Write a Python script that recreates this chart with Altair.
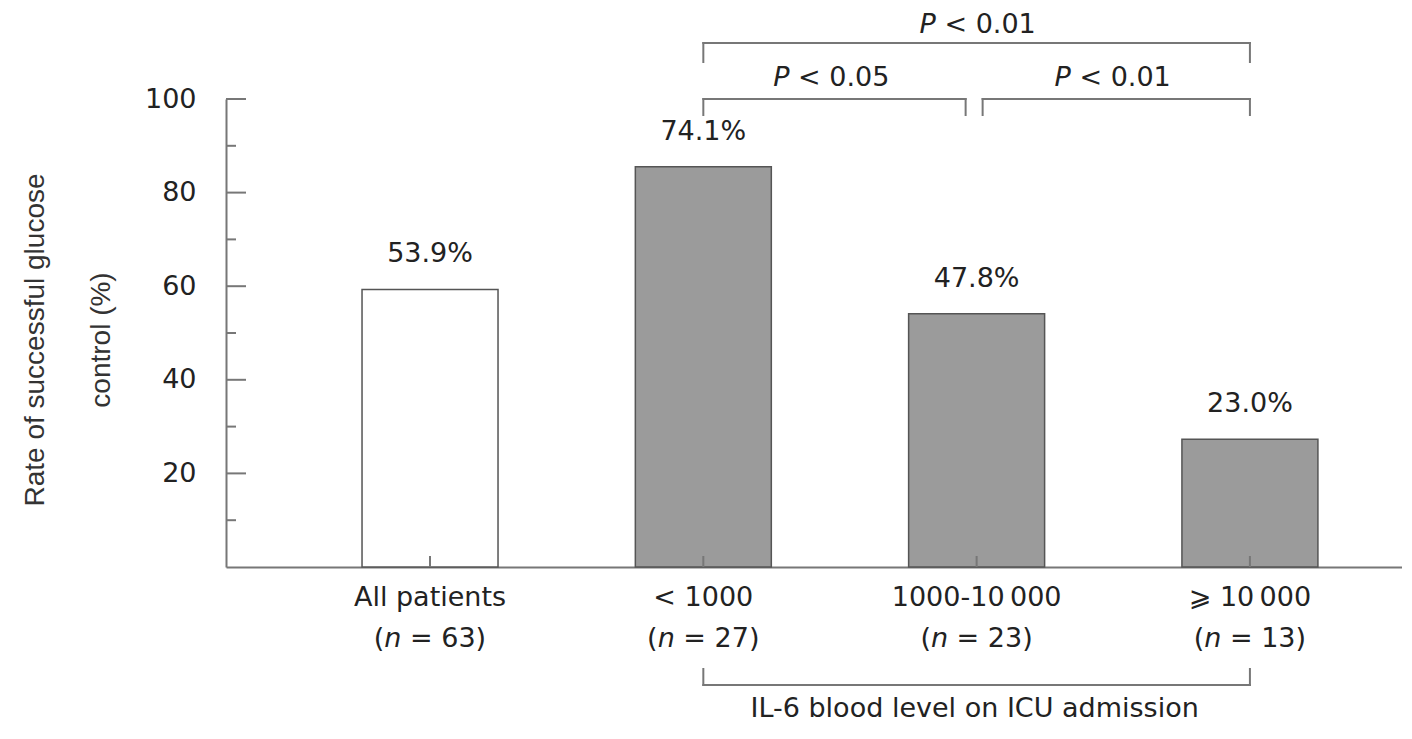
import altair as alt
import pandas as pd

# ---------------- data ----------------
categories = ["All patients", "< 1000", "1000-10\u2009000", "\u2a7e 10\u2009000"]
bar_heights = [59.3, 85.5, 54.1, 27.3]
pct_labels = ["53.9%", "74.1%", "47.8%", "23.0%"]
n_counts = ["63", "27", "23", "13"]
bar_fills = ["#ffffff", "#9b9b9b", "#9b9b9b", "#9b9b9b"]
major_ticks = [20, 40, 60, 80, 100]
minor_ticks = [10, 30, 50, 70, 90]
y_title_lines = ["Rate of successful glucose", "control (%)"]
group_title = "IL-6 blood level on ICU admission"
bracket_from = [categories[1], categories[1], categories[2]]
bracket_to = [categories[3], categories[2], categories[3]]
bracket_p = ["< 0.01", "< 0.05", "< 0.01"]
bracket_level = ["upper", "lower", "lower"]

# ---------------- style / layout ----------------
W, H = 1176, 468
FONT = "DejaVu Sans"
FS = 27
INK = "#222222"
LINE = "#777777"
# per bracket: (offset left end, offset right end, label anchor category, label dx)
bracket_style = [
    (0, 0, categories[2], 1),
    (0, -11, categories[1], 128),
    (6, 0, categories[2], 136),
]
level_style = {"upper": (-56, 19, -74), "lower": (0, 16, -21)}

xscale = alt.Scale(paddingInner=0.5024, paddingOuter=0.4027, align=0.618)
yscale = alt.Scale(domain=[0, 100])

XAXIS = alt.Axis(title=None, labelAngle=0, ticks=True, tickSize=0, labelPadding=30,
                 labelBaseline="middle", labelFont=FONT, labelFontSize=FS, labelColor=INK,
                 domainColor=LINE, domainWidth=2, grid=False)
YAXIS = alt.Axis(values=major_ticks, title=None, grid=False, ticks=True, tickSize=0,
                 labelPadding=30, labelFont=FONT, labelFontSize=FS, labelColor=INK,
                 domainColor=LINE, domainWidth=2)


def X():
    return alt.X("cat:N", sort=categories, scale=xscale, axis=XAXIS)


def Y():
    return alt.Y("v:Q", scale=yscale, axis=YAXIS)


bars_df = pd.DataFrame({
    "cat": categories,
    "v": bar_heights,
    "pct": pct_labels,
    "n": ["= " + c + ")" for c in n_counts],
    "fill": bar_fills,
})

layers = []

bars = alt.Chart(bars_df).mark_bar(stroke="#555555", strokeWidth=1.5).encode(
    x=X(), y=Y(), fill=alt.Fill("fill:N", scale=None),
)
layers.append(bars)

# value labels above bars
layers.append(alt.Chart(bars_df).mark_text(font=FONT, fontSize=FS, color=INK, baseline="middle", dy=-35)
              .encode(x=X(), y=Y(), text="pct:N"))

# second line of x labels: "(n = xx)" with italic n
NY = H + 72
layers.append(alt.Chart(bars_df).mark_text(text="(", font=FONT, fontSize=FS, color=INK, baseline="middle",
                                           align="right", dx=-45.7).encode(x=X(), y=alt.value(NY)))
layers.append(alt.Chart(bars_df).mark_text(text="n", font=FONT, fontSize=FS, fontStyle="italic", color=INK,
                                           baseline="middle", align="center", dx=-37.1).encode(x=X(), y=alt.value(NY)))
layers.append(alt.Chart(bars_df).mark_text(font=FONT, fontSize=FS, color=INK, baseline="middle",
                                           align="left", dx=-20.0).encode(x=X(), y=alt.value(NY), text="n:N"))

# inward y ticks
layers.append(alt.Chart(pd.DataFrame({"v": major_ticks})).mark_rule(color=LINE, strokeWidth=2)
              .encode(y=Y(), x=alt.value(0), x2=alt.value(20)))
layers.append(alt.Chart(pd.DataFrame({"v": minor_ticks})).mark_rule(color=LINE, strokeWidth=2)
              .encode(y=Y(), x=alt.value(0), x2=alt.value(10)))
# inward x ticks
layers.append(alt.Chart(bars_df).mark_rule(color=LINE, strokeWidth=2)
              .encode(x=X(), y=alt.value(H), y2=alt.value(H - 11)))


def bracket(frm, to, yb, ln, off1=0, off2=0, down=True):
    out = []
    df = pd.DataFrame({"cat": [frm], "cat2": [to]})
    out.append(alt.Chart(df).mark_rule(color=LINE, strokeWidth=2, xOffset=off1, x2Offset=off2, strokeCap="square")
               .encode(x=X(), x2=alt.X2("cat2:N"), y=alt.value(yb)))
    y2 = yb + ln if down else yb - ln
    for c, o in ((frm, off1), (to, off2)):
        out.append(alt.Chart(pd.DataFrame({"cat": [c]})).mark_rule(color=LINE, strokeWidth=2, xOffset=o,
                                                                   strokeCap="square")
                   .encode(x=X(), y=alt.value(yb), y2=alt.value(y2)))
    return out


for i in range(len(bracket_from)):
    off1, off2, anchor, ldx = bracket_style[i]
    yb, ln, ly = level_style[bracket_level[i]]
    layers += bracket(bracket_from[i], bracket_to[i], yb, ln, off1, off2)
    adf = pd.DataFrame({"cat": [anchor], "p": [bracket_p[i]]})
    layers.append(alt.Chart(adf).mark_text(text="P", font=FONT, fontSize=FS, fontStyle="italic", color=INK,
                                           baseline="middle", align="center", dx=ldx - 50)
                  .encode(x=X(), y=alt.value(ly)))
    layers.append(alt.Chart(adf).mark_text(font=FONT, fontSize=FS, color=INK, baseline="middle",
                                           align="left", dx=ldx - 33.2)
                  .encode(x=X(), y=alt.value(ly), text="p:N"))

# group bracket under IL-6 categories
layers += bracket(categories[1], categories[3], H + 118, 16, down=False)
layers.append(alt.Chart(pd.DataFrame({"cat": [categories[2]], "t": [group_title]}))
              .mark_text(font=FONT, fontSize=FS, color=INK, baseline="middle", align="center", dx=-2)
              .encode(x=X(), y=alt.value(H + 142), text="t:N"))

# y axis title (two rotated lines)
for line, xpos in zip(y_title_lines, [-190, -124]):
    layers.append(alt.Chart(pd.DataFrame({"t": [line]}))
                  .mark_text(font="Liberation Sans", fontSize=28, color="#333333", angle=270,
                             baseline="middle", align="center")
                  .encode(x=alt.value(xpos), y=alt.value(241), text="t:N"))

chart = alt.layer(*layers).properties(
    width=W, height=H,
    padding={"left": 218, "top": 91, "right": 0, "bottom": 156},
    autosize=alt.AutoSizeParams(type="none"),
    background="white",
).configure_view(stroke=None)

chart.save("out.html", embed_options={"renderer": "svg", "actions": False})
